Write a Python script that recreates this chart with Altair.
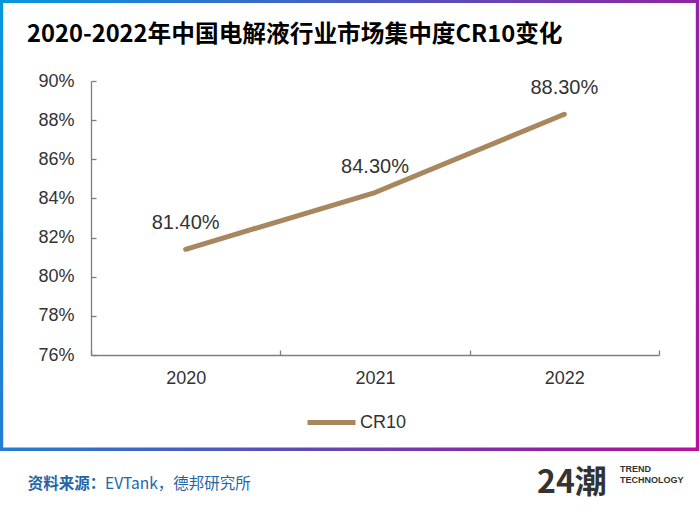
import altair as alt
import pandas as pd

# ---- data ----
years = ["2020", "2021", "2022"]
cr10 = [0.814, 0.843, 0.883]
series_name = "CR10"
y_ticks = [0.76, 0.78, 0.80, 0.82, 0.84, 0.86, 0.88, 0.90]
y_domain = [0.76, 0.90]
title_text = "2020-2022年中国电解液行业市场集中度CR10变化"
source_label = "资料来源："
source_text = "EVTank，德邦研究所"
logo_main = "24潮"
logo_sub1 = "TREND"
logo_sub2 = "TECHNOLOGY"

df = pd.DataFrame({"year": years, "value": cr10, "series": [series_name] * len(years)})

# ---- style ----
W, H = 568, 274
PAD = {"left": 91, "top": 81, "right": 41, "bottom": 158}
LINE_COLOR = "#A8865E"
AXIS_COLOR = "#7F7F7F"
TEXT_COLOR = "#333333"
SOURCE_COLOR = "#1E66A8"
LATIN = "Liberation Sans"
CJK = "Noto Sans CJK SC"

x_scale = alt.Scale(type="band", domain=years, paddingInner=0, paddingOuter=0)
y_scale = alt.Scale(domain=y_domain, zero=False, nice=False)

one_row = alt.Data(values=[{}])

# gradient frame
frame = alt.Chart(one_row).mark_rect(
    fill="transparent",
    strokeWidth=3.4,
    stroke=alt.LinearGradient(
        gradient="linear",
        stops=[
            alt.GradientStop(color="#0797DD", offset=0),
            alt.GradientStop(color="#4A5CC0", offset=0.41),
            alt.GradientStop(color="#8F23A3", offset=0.82),
            alt.GradientStop(color="#B5129A", offset=1),
        ],
        x1=0, y1=0, x2=1.163, y2=0.256,
    ),
).encode(x=alt.value(-89.5), x2=alt.value(606.5), y=alt.value(-79.8), y2=alt.value(368.3))

line = alt.Chart(df).mark_line(strokeWidth=5, strokeCap="round", strokeJoin="round").encode(
    x=alt.X("year:N", scale=x_scale, bandPosition=0.5,
            axis=alt.Axis(orient="bottom", domain=True, domainColor=AXIS_COLOR, domainWidth=1.3,
                          ticks=False, labels=False, title=None, grid=False)),
    y=alt.Y("value:Q", scale=y_scale,
            axis=alt.Axis(orient="left", domain=True, domainColor=AXIS_COLOR, domainWidth=1.3,
                          ticks=False, labels=False, title=None, grid=False)),
    color=alt.Color("series:N", scale=alt.Scale(domain=[series_name], range=[LINE_COLOR]),
                    legend=alt.Legend(orient="none", legendX=214, legendY=315, title=None,
                                      symbolType="stroke", symbolStrokeWidth=5, symbolSize=2304,
                                      labelFontSize=18, labelFont=LATIN, labelColor=TEXT_COLOR,
                                      labelOffset=2, padding=0)),
)

labels = alt.Chart(df).mark_text(dy=-26, fontSize=20, font=LATIN, color=TEXT_COLOR,
                                 baseline="middle").encode(
    x=alt.X("year:N", scale=x_scale, bandPosition=0.5, axis=None),
    y=alt.Y("value:Q", scale=y_scale, axis=None),
    text=alt.Text("value:Q", format=".2%"),
)

axes = alt.Chart(df).mark_point(opacity=0).encode(
    x=alt.X("year:N", scale=x_scale,
            axis=alt.Axis(orient="bottom", offset=-5, domain=False, ticks=True, tickSize=5,
                          tickColor=AXIS_COLOR, tickWidth=1.3, tickBand="extent",
                          labelFontSize=18, labelFont=LATIN, labelColor=TEXT_COLOR,
                          labelPadding=14, labelAngle=0, title=None, grid=False)),
    y=alt.Y("value:Q", scale=y_scale,
            axis=alt.Axis(orient="left", offset=-5, values=y_ticks, format=".0%", domain=False,
                          ticks=True, tickSize=5, tickColor=AXIS_COLOR, tickWidth=1.3,
                          labelFontSize=18, labelFont=LATIN, labelColor=TEXT_COLOR,
                          labelPadding=17, title=None, grid=False)),
)


def txt(text, x, y, size, color, font, weight="normal"):
    return alt.Chart(one_row).mark_text(
        text=text, fontSize=size, font=font, fontWeight=weight, color=color,
        align="left", baseline="middle",
    ).encode(x=alt.value(x), y=alt.value(y))


title = txt(title_text, -64, -46, 23.7, "#000000", CJK, "bold")
src1 = txt(source_label, -63.3, 403, 15.5, SOURCE_COLOR, CJK, "bold")
src2 = txt(source_text, 14, 403, 15.5, SOURCE_COLOR, CJK)
logo1 = txt(logo_main, 446, 402, 32, "#333333", CJK, "bold")
logo2 = txt(logo_sub1, 529, 388, 9, "#333333", LATIN, "bold")
logo3 = txt(logo_sub2, 529, 399, 9, "#333333", LATIN, "bold")

chart = alt.layer(frame, line, labels, axes, title, src1, src2, logo1, logo2, logo3).resolve_scale(
    x="independent", y="independent"
).properties(
    width=W, height=H,
    autosize=alt.AutoSizeParams(type="none"),
    padding=PAD,
    background="white",
).configure_view(strokeWidth=0)

chart.save("out.html", embed_options={"renderer": "svg", "actions": False})
